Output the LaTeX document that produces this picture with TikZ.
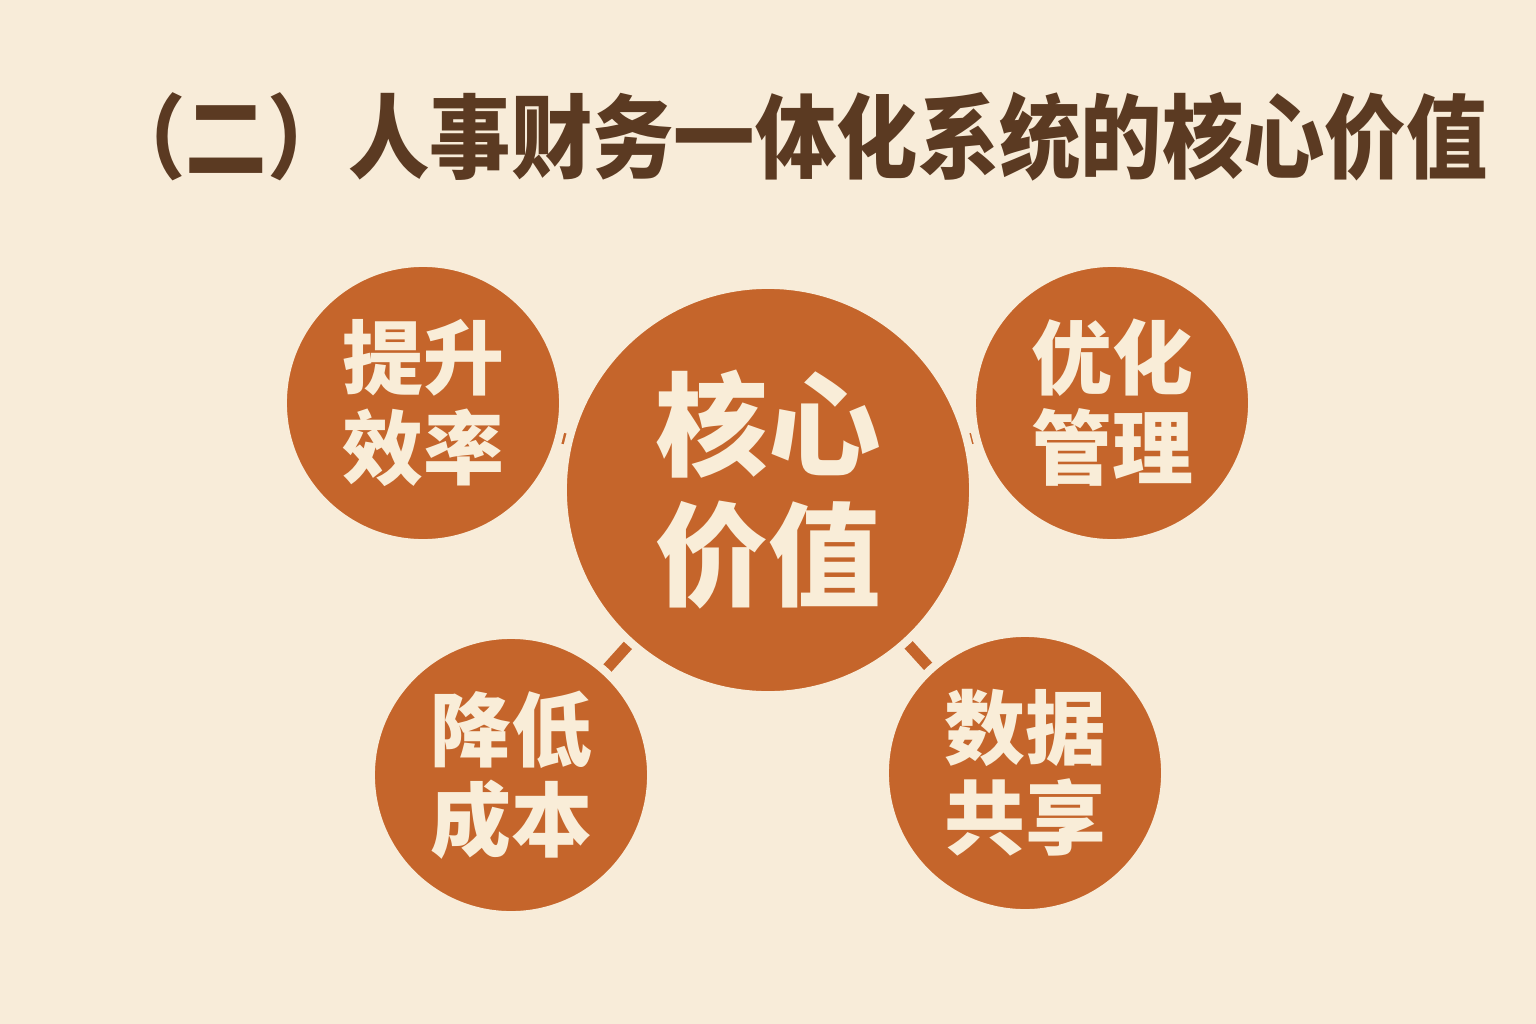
\documentclass[tikz,border=0pt]{standalone}
\usepackage{fontspec}
\usepackage{xcolor}
\usepackage{tikz}
\newfontfamily\cjk{Noto Sans CJK SC}
\definecolor{bgcream}{HTML}{F8ECD9}
\definecolor{rust}{HTML}{C5652B}
\definecolor{titlebrown}{HTML}{5B3A22}
\definecolor{textcream}{HTML}{F9EDD8}
\tikzset{
  corecircle/.style={circle, fill=rust, draw=bgcream, line width=0.08cm, minimum size=4.1cm,
    align=center, text=textcream, font=\cjk\bfseries\fontsize{32}{37}\selectfont},
  valuecircle/.style={circle, fill=rust, draw=bgcream, line width=0.08cm, minimum size=2.8cm,
    align=center, text=textcream, font=\cjk\bfseries\fontsize{23}{25.6}\selectfont},
  link/.style={rust, line width=0.11cm}
}

\begin{document}
\begin{tikzpicture}[x=0.01cm,y=-0.01cm]
\tikzstyle{every node}+=[inner sep=0pt]
\useasboundingbox (0,0) rectangle (1536,1024);
\fill [bgcream] (0,0) rectangle (1536,1024);
\node [text=titlebrown, xscale=0.89, font=\cjk\bfseries\fontsize{26}{30}\selectfont] (title) at (796,137) {（二）人事财务一体化系统的核心价值};
\coordinate (c0) at (768,490);
\coordinate (c1) at (423,403);
\coordinate (c2) at (1112,403);
\coordinate (c3) at (511,775);
\coordinate (c4) at (1025,773);
\draw [link] (c0) -- (c1);
\draw [link] (c0) -- (c2);
\draw [link] (c0) -- (c3);
\draw [link] (c0) -- (c4);
\node [valuecircle] (speed) at (c1) {提升\\效率};
\node [valuecircle] (manage) at (c2) {优化\\管理};
\node [valuecircle] (cost) at (c3) {降低\\成本};
\node [valuecircle] (share) at (c4) {数据\\共享};
\node [corecircle] (core) at (c0) {\raisebox{-0.08cm}{核心}\\\raisebox{-0.08cm}{价值}};
\end{tikzpicture}
\end{document}
